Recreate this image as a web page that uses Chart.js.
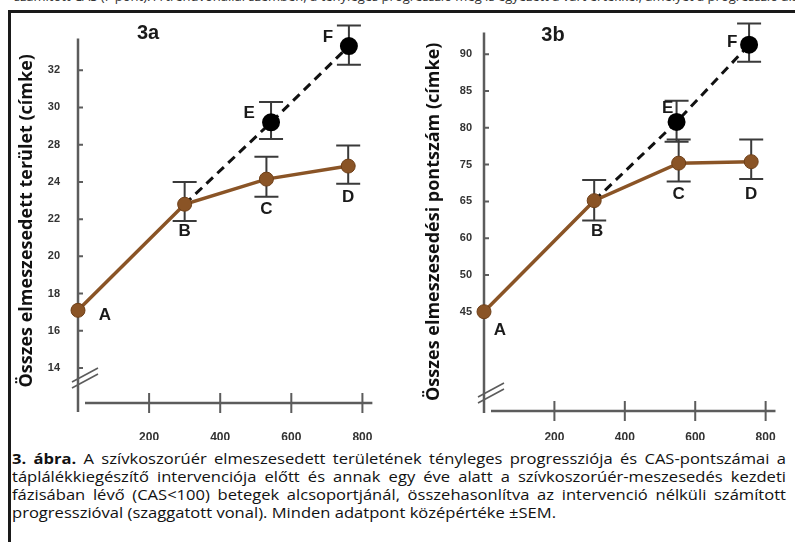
<!DOCTYPE html>
<html lang="hu">
<head>
<meta charset="utf-8">
<script src="https://cdn.jsdelivr.net/npm/chart.js@4.4.1/dist/chart.umd.min.js"></script>
<style>
  body { margin: 0; width: 795px; height: 542px; overflow: hidden; background: #fff; position: relative; font-family: "Open Sans", sans-serif; }
  #runon { position: absolute; left: 14px; top: -13px; font-size: 13px; color: #333; white-space: nowrap; }
  #frame { position: absolute; left: 8px; top: 10px; width: 800px; height: 560px; border-left: 3px solid #1a1a1a; border-top: 3px solid #1a1a1a; }
  .panel { position: absolute; top: 14px; height: 426px; }
  #pa { left: 10px; width: 390px; }
  #pb { left: 400px; width: 395px; }
  #caption { position: absolute; left: 12px; top: 449px; width: 774px; font-family: "Open Sans", sans-serif; font-size: 15px; line-height: 18px; color: #111; transform-origin: 0 0; }
  .jl { text-align: justify; text-align-last: justify; }
  #lastline { white-space: nowrap; }
</style>
</head>
<body>
<div id="runon">számított CAS (F pont). A trendvonallal szemben, a tényleges progresszió meg is egyezett a várt értékkel, amelyet a progresszió alapján jósoltak meg</div>
<div id="frame"></div>
<div class="panel" id="pa"><canvas id="chartA"></canvas></div>
<div class="panel" id="pb"><canvas id="chartB"></canvas></div>
<div id="caption">
  <div class="jl"><b>3. ábra.</b> A szívkoszorúér elmeszesedett területének tényleges progressziója és CAS-pontszámai a</div>
  <div class="jl">táplálékkiegészítő intervenciója előtt és annak egy éve alatt a szívkoszorúér-meszesedés kezdeti</div>
  <div class="jl">fázisában lévő (CAS&lt;100) betegek alcsoportjánál, összehasonlítva az intervenció nélküli számított</div>
  <div><span id="lastline">progresszióval (szaggatott vonal). Minden adatpont középértéke ±SEM.</span></div>
</div>
<script>
const xTicks = [200, 400, 600, 800];
const actualLetters = ['A', 'B', 'C', 'D'];
const projLetters = ['', 'E', 'F'];

// 3a - elmeszesedett terület (tick labels as printed)
const aTicks = [14, 16, 18, 20, 22, 24, 28, 30, 32];
const aDays = [0, 300, 530, 760];
const aActual = [17.1, 22.8, 24.3, 25.7];
const aActualLo = [null, 21.9, 23.2, 23.9];
const aActualHi = [null, 24.0, 26.7, 27.9];
const aProjDays = [300, 543, 762];
const aProjected = [22.8, 29.2, 33.3];
const aProjLo = [null, 28.3, 32.3];
const aProjHi = [null, 30.3, 34.4];

// 3b - elmeszesedési pontszám
const bTicks = [45, 50, 60, 65, 75, 80, 85, 90];
const bDays = [0, 313, 553, 759];
const bActual = [45.0, 65.2, 75.2, 75.4];
const bActualLo = [null, 62.4, 70.4, 71.1];
const bActualHi = [null, 70.8, 78.4, 78.4];
const bProjDays = [313, 547, 753];
const bProjected = [65.2, 80.8, 91.3];
const bProjLo = [null, 78.1, 89.0];
const bProjHi = [null, 83.7, 94.2];

// printed ticks are evenly spaced but not evenly valued, so map piecewise
class StepScale extends Chart.LinearScale {
  determineDataLimits() {
    const t = this.options.steps;
    this.min = t[0];
    this.max = t[t.length - 1];
  }
  buildTicks() {
    return this.options.steps.map(v => ({ value: v }));
  }
  toStep(v) {
    const t = this.options.steps;
    let i = 1;
    while (i < t.length - 1 && v > t[i]) i++;
    return i - 1 + (v - t[i - 1]) / (t[i] - t[i - 1]);
  }
  getPixelForValue(v) {
    if (v === null || v === undefined || isNaN(v)) return NaN;
    const o = this.options;
    return this.getPixelForDecimal((this.toStep(v) - o.stepMin) / (o.stepMax - o.stepMin));
  }
  getValueForPixel(p) {
    const o = this.options, t = o.steps;
    const s = o.stepMin + this.getDecimalForPixel(p) * (o.stepMax - o.stepMin);
    const i = Math.min(Math.max(Math.floor(s), 0), t.length - 2);
    return t[i] + (s - i) * (t[i + 1] - t[i]);
  }
}
StepScale.id = 'step';
StepScale.defaults = {};
Chart.register(StepScale);

const brown = '#8a5426';
const axisGrey = '#5c5c5c';

const decor = {
  id: 'decor',
  beforeDatasetsDraw(chart, args, o) {
    const { ctx, chartArea: ca, scales: { x, y } } = chart;
    ctx.save();
    ctx.strokeStyle = axisGrey;
    ctx.lineWidth = 2.5;
    ctx.beginPath();
    ctx.moveTo(ca.left, ca.top);
    ctx.lineTo(ca.left, ca.bottom + o.yOver);
    ctx.moveTo(ca.left + 7, ca.bottom);
    ctx.lineTo(ca.right, ca.bottom);
    ctx.stroke();

    ctx.lineWidth = 2;
    ctx.beginPath();
    xTicks.forEach(v => {
      const px = x.getPixelForValue(v);
      ctx.moveTo(px, ca.bottom - 10);
      ctx.lineTo(px, ca.bottom + 10);
    });
    y.ticks.forEach(t => {
      const py = y.getPixelForValue(t.value);
      ctx.moveTo(ca.left, py);
      ctx.lineTo(ca.left + 5, py);
    });
    ctx.stroke();

    // axis break marks
    const bx = ca.left + 7, by = ca.bottom - o.breakUp;
    ctx.lineWidth = 1.6;
    ctx.beginPath();
    [-3, 3].forEach(d => {
      ctx.moveTo(bx - 13, by + d + 7);
      ctx.lineTo(bx + 13, by + d - 7);
    });
    ctx.stroke();

    // SEM bars
    ctx.strokeStyle = '#3a3a3a';
    ctx.lineWidth = 2;
    chart.data.datasets.forEach((ds, i) => {
      const meta = chart.getDatasetMeta(i);
      ds.lo.forEach((lo, j) => {
        if (lo === null) return;
        const px = meta.data[j].x;
        const yl = y.getPixelForValue(lo), yh = y.getPixelForValue(ds.hi[j]);
        ctx.beginPath();
        ctx.moveTo(px, yl); ctx.lineTo(px, yh);
        ctx.moveTo(px - 12, yl); ctx.lineTo(px + 12, yl);
        ctx.moveTo(px - 12, yh); ctx.lineTo(px + 12, yh);
        ctx.stroke();
      });
    });

    ctx.fillStyle = '#1a1a1a';
    ctx.font = 'bold 20px "Liberation Sans", Arial, sans-serif';
    ctx.textAlign = 'center';
    ctx.textBaseline = 'middle';
    ctx.fillText(o.label, ca.left + o.labelDx, o.labelY);
    ctx.restore();
  },
  afterDatasetsDraw(chart, args, o) {
    const { ctx } = chart;
    ctx.save();
    ctx.fillStyle = '#1a1a1a';
    ctx.font = 'bold 17px "Liberation Sans", Arial, sans-serif';
    ctx.textAlign = 'center';
    ctx.textBaseline = 'middle';
    chart.data.datasets.forEach((ds, i) => {
      const meta = chart.getDatasetMeta(i);
      ds.letters.forEach((l, j) => {
        if (!l) return;
        const off = o.offsets[l];
        ctx.fillText(l, meta.data[j].x + off[0], meta.data[j].y + off[1]);
      });
    });
    ctx.restore();
  }
};

function makeChart(id, cfg) {
  const pts = (xs, ys) => xs.map((v, i) => ({ x: v, y: ys[i] }));
  return new Chart(document.getElementById(id), {
    type: 'line',
    data: {
      datasets: [
        {
          data: pts(cfg.days, cfg.actual),
          lo: cfg.actualLo, hi: cfg.actualHi, letters: actualLetters,
          borderColor: brown, borderWidth: 3.5,
          pointBackgroundColor: brown, pointBorderColor: '#6e3f18', pointBorderWidth: 1,
          pointRadius: 7, tension: 0, clip: false
        },
        {
          data: pts(cfg.projDays, cfg.projected),
          lo: cfg.projLo, hi: cfg.projHi, letters: projLetters,
          borderColor: '#111', borderWidth: 3, borderDash: [9, 6],
          pointBackgroundColor: '#000', pointBorderColor: '#000',
          pointRadius: [0, 7.5, 7.5], tension: 0, clip: false
        }
      ]
    },
    options: {
      responsive: true,
      maintainAspectRatio: false,
      animation: false,
      events: [],
      layout: { padding: cfg.padding },
      scales: {
        x: {
          type: 'linear', min: 0, max: 828,
          afterBuildTicks: s => { s.ticks = xTicks.map(v => ({ value: v })); },
          afterFit: s => { s.height = cfg.xHeight; },
          grid: { display: false, drawTicks: false },
          border: { display: false },
          ticks: { padding: cfg.xPad, color: '#333', font: { family: 'Liberation Sans', weight: 'bold', size: 12 } }
        },
        y: {
          type: 'step', position: 'left',
          steps: cfg.ticks, stepMin: cfg.stepMin, stepMax: cfg.stepMax,
          afterFit: s => { s.width = cfg.yWidth; },
          grid: { display: false, drawTicks: false },
          border: { display: false },
          ticks: { autoSkip: false, padding: cfg.yPad, color: '#333', callback: v => String(v), font: { family: 'Liberation Sans', weight: 'bold', size: 11 } },
          title: { display: true, text: cfg.title, color: '#111', padding: { top: cfg.titlePad, bottom: 0 }, font: { family: 'Open Sans', weight: 'bold', size: 18 } }
        }
      },
      plugins: {
        legend: { display: false },
        tooltip: { enabled: false },
        decor: cfg.decor
      }
    },
    plugins: [decor]
  });
}

makeChart('chartA', {
  days: aDays, actual: aActual, actualLo: aActualLo, actualHi: aActualHi,
  projDays: aProjDays, projected: aProjected, projLo: aProjLo, projHi: aProjHi,
  ticks: aTicks, stepMin: -0.94, stepMax: 8.85,
  title: 'Összes elmeszesedett terület (címke)',
  padding: { top: 14, right: 17, bottom: 0, left: 0 },
  yWidth: 68, xHeight: 37, xPad: 27, yPad: 18, titlePad: 6,
  decor: {
    yOver: 9, breakUp: 25, label: '3a', labelDx: 70, labelY: 19,
    offsets: { A: [27, 5], B: [0, 27], C: [0, 30], D: [0, 31], E: [-22, -9], F: [-21, -9] }
  }
});

makeChart('chartB', {
  days: bDays, actual: bActual, actualLo: bActualLo, actualHi: bActualHi,
  projDays: bProjDays, projected: bProjected, projLo: bProjLo, projHi: bProjHi,
  ticks: bTicks, stepMin: -2.7, stepMax: 7.59,
  title: 'Összes elmeszesedési pontszám (címke)',
  padding: { top: 16, right: 7, bottom: 0, left: 0 },
  yWidth: 84, xHeight: 29, xPad: 19, yPad: 12, titlePad: 23,
  decor: {
    yOver: 2, breakUp: 18, label: '3b', labelDx: 69, labelY: 21,
    offsets: { A: [16, 19], B: [3, 31], C: [0, 31], D: [0, 33], E: [-9, -14], F: [-17, -2] }
  }
});

// fit caption width to the print: last line ends near x = 556
const cap = document.getElementById('caption');
const k = 544 / document.getElementById('lastline').getBoundingClientRect().width;
cap.style.width = (774 / k) + 'px';
cap.style.transform = 'scaleX(' + k + ')';
</script>
</body>
</html>
